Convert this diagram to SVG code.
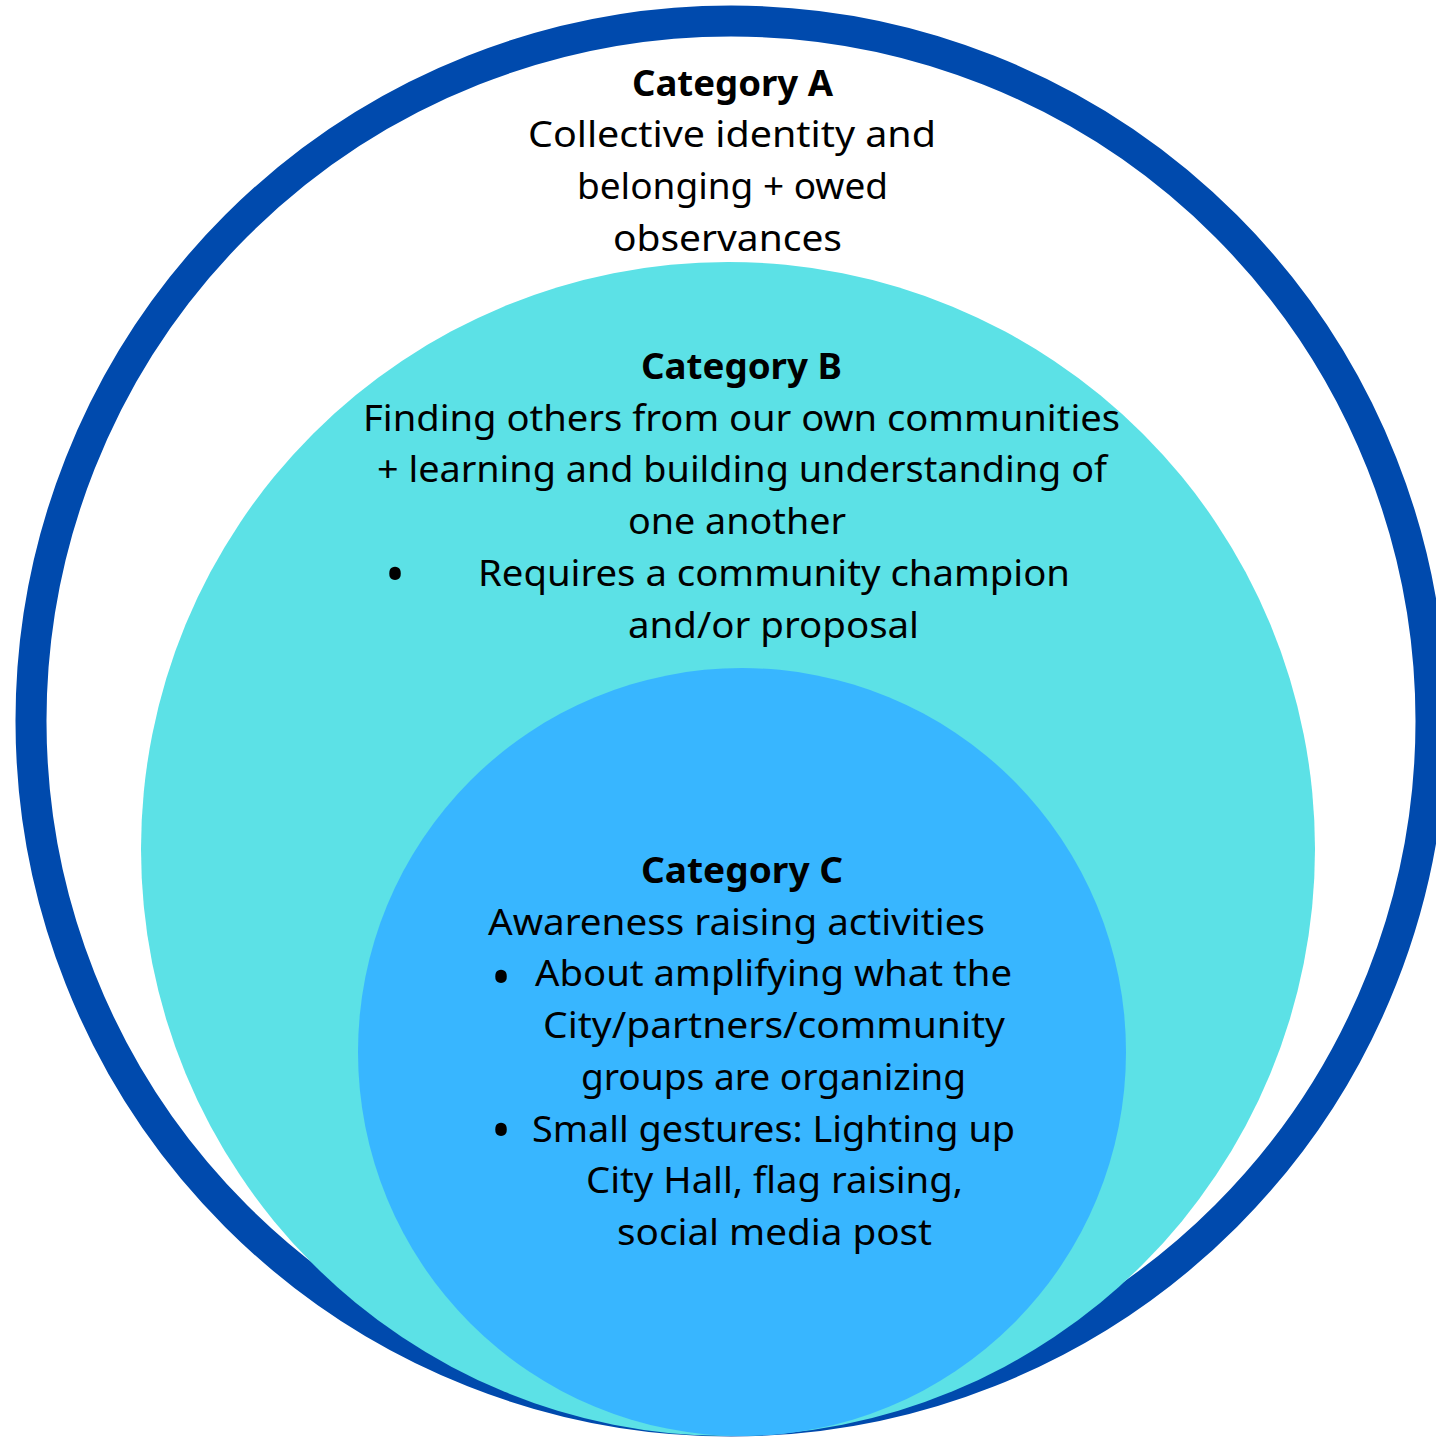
<svg xmlns="http://www.w3.org/2000/svg" width="1436" height="1440" viewBox="0 0 1436 1440">
  <style>
    .t { font-family: "Noto Sans", "Liberation Sans", sans-serif; font-size: 36px; fill: #000000; }
    .h { font-weight: bold; }
    .bul { font-family: "Noto Sans", "Liberation Sans", sans-serif; font-size: 52px; fill: #000000; text-anchor: middle; }
    .ring { fill: #FFFFFF; stroke: #004AAD; stroke-width: 31; }
    .b { fill: #5CE1E6; }
    .c { fill: #38B6FF; }
  </style>
  <rect width="1436" height="1440" fill="#FFFFFF"/>
  <g id="category-a">
    <circle class="ring" cx="731" cy="721" r="700"/>
    <text class="t h" x="632" y="95.5" textLength="201" lengthAdjust="spacingAndGlyphs">Category A</text>
    <text class="t" x="528" y="147.2" textLength="408" lengthAdjust="spacingAndGlyphs">Collective identity and</text>
    <text class="t" x="577" y="198.9" textLength="311" lengthAdjust="spacingAndGlyphs">belonging + owed</text>
    <text class="t" x="613" y="250.6" textLength="229" lengthAdjust="spacingAndGlyphs">observances</text>
  </g>
  <g id="category-b">
    <circle class="b" cx="728" cy="849" r="587"/>
    <text class="t h" x="641" y="379" textLength="201" lengthAdjust="spacingAndGlyphs">Category B</text>
    <text class="t" x="363" y="430.7" textLength="757" lengthAdjust="spacingAndGlyphs">Finding others from our own communities</text>
    <text class="t" x="377" y="482.4" textLength="730" lengthAdjust="spacingAndGlyphs">+ learning and building understanding of</text>
    <text class="t" x="628" y="534.1" textLength="218" lengthAdjust="spacingAndGlyphs">one another</text>
    <text class="bul" x="395" y="592.5">•</text>
    <text class="t" x="478" y="585.8" textLength="592" lengthAdjust="spacingAndGlyphs">Requires a community champion</text>
    <text class="t" x="628" y="637.5" textLength="291" lengthAdjust="spacingAndGlyphs">and/or proposal</text>
  </g>
  <g id="category-c">
    <circle class="c" cx="742" cy="1052" r="384"/>
    <text class="t h" x="641" y="883" textLength="202" lengthAdjust="spacingAndGlyphs">Category C</text>
    <text class="t" x="488" y="934.7" textLength="497" lengthAdjust="spacingAndGlyphs">Awareness raising activities</text>
    <text class="bul" x="501" y="995.5">•</text>
    <text class="t" x="535" y="986.4" textLength="477" lengthAdjust="spacingAndGlyphs">About amplifying what the</text>
    <text class="t" x="543" y="1038.1" textLength="462" lengthAdjust="spacingAndGlyphs">City/partners/community</text>
    <text class="t" x="581" y="1089.8" textLength="385" lengthAdjust="spacingAndGlyphs">groups are organizing</text>
    <text class="bul" x="501" y="1148.5">•</text>
    <text class="t" x="532" y="1141.5" textLength="483" lengthAdjust="spacingAndGlyphs">Small gestures: Lighting up</text>
    <text class="t" x="586" y="1193.2" textLength="377" lengthAdjust="spacingAndGlyphs">City Hall, flag raising,</text>
    <text class="t" x="617" y="1244.9" textLength="315" lengthAdjust="spacingAndGlyphs">social media post</text>
  </g>
  <g id="connectors"/>
</svg>
